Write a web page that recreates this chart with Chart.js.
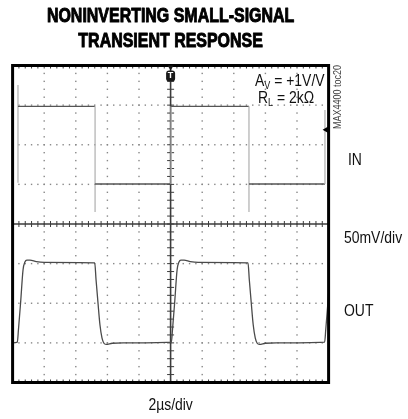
<!DOCTYPE html>
<html>
<head>
<meta charset="utf-8">
<script src="https://cdn.jsdelivr.net/npm/chart.js@4.4.1/dist/chart.umd.min.js"></script>
<style>
  html, body { margin: 0; padding: 0; background: #fff; }
  #wrap { width: 408px; height: 419px; }
</style>
</head>
<body>
<div id="wrap"><canvas id="scope"></canvas></div>
<script>
// x: time in µs (2µs/div, 10 div), y: screen divisions from bottom (50mV/div, 8 div)
const inTime  = [0.34, 0.34, 0.34, 5.22, 5.22, 5.22, 10.03, 10.03, 14.96, 14.96, 14.96, 19.77, 19.77];
const inLevel = [5.04, 7.51, 6.97, 6.97, 4.30, 5.01, 5.01, 6.97, 6.97, 4.30, 5.01, 5.01, 6.88];

const outTime  = [0, 0.30, 0.37, 0.51, 0.66, 0.78, 0.90, 1.10, 1.50, 2.00, 5.20, 5.28, 5.40, 5.53, 5.66, 5.78, 5.92, 6.30, 7.00,
                  10.05, 10.12, 10.26, 10.41, 10.53, 10.65, 10.85, 11.25, 11.75, 14.90, 14.98, 15.10, 15.23, 15.36, 15.48, 15.62, 16.00, 16.70,
                  19.75, 19.82, 19.96, 20.11];
const outLevel = [1.00, 1.02, 1.33, 2.03, 2.84, 3.04, 3.09, 3.09, 3.05, 3.03, 3.02, 2.60, 2.03, 1.45, 1.12, 0.99, 0.96, 0.99, 1.00,
                  1.02, 1.33, 2.03, 2.84, 3.04, 3.09, 3.09, 3.05, 3.03, 3.02, 2.60, 2.03, 1.45, 1.12, 0.99, 0.96, 0.99, 1.00,
                  1.02, 1.33, 2.03, 2.84];

const xDivs = [0, 2, 4, 6, 8, 10, 12, 14, 16, 18, 20];
const yDivs = [0, 1, 2, 3, 4, 5, 6, 7, 8];

const titleLines = ['NONINVERTING SMALL-SIGNAL', 'TRANSIENT RESPONSE'];

const FONT = "'Liberation Sans', Arial, sans-serif";

const toPoints = (xs, ys) => xs.map((x, i) => ({ x, y: ys[i] }));

// draws text squeezed horizontally (no narrow font installed), returns drawn width
const narrowText = (ctx, text, x, y, font, align = 'left', sx = 0.82, heavy = 0) => {
    ctx.save();
    ctx.translate(x, y);
    ctx.scale(sx, 1);
    ctx.font = font;
    ctx.textAlign = align;
    ctx.fillText(text, 0, 0);
    if (heavy) {
        ctx.lineWidth = heavy;
        ctx.lineJoin = 'round';
        ctx.strokeText(text, 0, 0);
    }
    const w = ctx.measureText(text).width * sx;
    ctx.restore();
    return w;
};

// --- scope graticule: dotted divisions, centre axes with minor ticks ---
const graticule = {
    id: 'graticule',
    beforeDatasetsDraw(chart) {
        const { ctx, chartArea: a, scales: { x, y } } = chart;
        ctx.save();
        ctx.fillStyle = '#888';
        for (const d of yDivs) {
            if (d === 0 || d === 4 || d === 8) continue;
            const py = y.getPixelForValue(d);
            for (let t = 0; t <= 20.001; t += 0.4) {
                ctx.fillRect(x.getPixelForValue(t) - 0.7, py - 0.7, 1.4, 1.4);
            }
        }
        for (const t of xDivs) {
            if (t === 0 || t === 10 || t === 20) continue;
            const px = x.getPixelForValue(t);
            for (let d = 0; d <= 8.001; d += 0.2) {
                ctx.fillRect(px - 0.7, y.getPixelForValue(d) - 0.7, 1.4, 1.4);
            }
        }

        const cx = x.getPixelForValue(10), cy = y.getPixelForValue(4);
        ctx.strokeStyle = '#3c3c3c';
        ctx.lineWidth = 1.6;
        ctx.beginPath();
        ctx.moveTo(a.left, cy); ctx.lineTo(a.right, cy);
        ctx.moveTo(cx, a.top); ctx.lineTo(cx, a.bottom);
        ctx.stroke();

        ctx.lineWidth = 1;
        ctx.beginPath();
        for (let t = 0.4; t < 20; t += 0.4) {
            const px = x.getPixelForValue(t);
            ctx.moveTo(px, cy - 3); ctx.lineTo(px, cy + 3);
            ctx.moveTo(px, a.top); ctx.lineTo(px, a.top + 3);
            ctx.moveTo(px, a.bottom); ctx.lineTo(px, a.bottom - 3);
        }
        for (let d = 0.2; d < 8; d += 0.2) {
            const py = y.getPixelForValue(d);
            ctx.moveTo(cx - 3.5, py); ctx.lineTo(cx + 3.5, py);
        }
        ctx.stroke();
        ctx.restore();
    },
    afterDatasetsDraw(chart) {
        const { ctx, chartArea: a, scales: { x, y } } = chart;
        ctx.save();
        // frame
        ctx.strokeStyle = '#000';
        ctx.lineWidth = 3;
        ctx.strokeRect(a.left, a.top, a.right - a.left, a.bottom - a.top);

        // trigger marker
        const cx = x.getPixelForValue(10);
        ctx.fillStyle = '#1a1a1a';
        ctx.beginPath();
        ctx.moveTo(cx - 3, a.top); ctx.lineTo(cx + 3, a.top); ctx.lineTo(cx, a.top + 5);
        ctx.fill();
        ctx.beginPath();
        ctx.roundRect(cx - 4.5, a.top + 5, 9, 11, 3);
        ctx.fill();
        ctx.fillStyle = '#fff';
        ctx.textBaseline = 'middle';
        narrowText(ctx, 'T', cx, a.top + 10.5, 'bold 9px ' + FONT, 'center', 1);

        // channel ground arrow
        const gy = y.getPixelForValue(6.38);
        ctx.fillStyle = '#000';
        ctx.beginPath();
        ctx.moveTo(a.right - 6, gy); ctx.lineTo(a.right, gy - 3.5); ctx.lineTo(a.right, gy + 3.5);
        ctx.fill();

        // title
        const mid = (a.left + a.right) / 2;
        ctx.fillStyle = '#000';
        ctx.strokeStyle = '#000';
        ctx.textBaseline = 'alphabetic';
        narrowText(ctx, titleLines[0], mid, 22, 'bold 21px ' + FONT, 'center', 0.76, 1);
        narrowText(ctx, titleLines[1], mid, 47, 'bold 21px ' + FONT, 'center', 0.76, 1);

        // annotations
        ctx.fillStyle = '#111';
        const sub = (main, s, rest, x0, base) => {
            let w = narrowText(ctx, main, x0, base, '17px ' + FONT);
            w += narrowText(ctx, s, x0 + w, base + 3, '11px ' + FONT);
            narrowText(ctx, rest, x0 + w, base, '17px ' + FONT);
        };
        sub('A', 'V', ' = +1V/V', 255, 86);
        sub('R', 'L', ' = 2k\u03A9', 258, 103);

        ctx.textBaseline = 'middle';
        narrowText(ctx, 'IN', 348, 160, '17px ' + FONT);
        narrowText(ctx, '50mV/div', 344, 238, '17px ' + FONT);
        narrowText(ctx, 'OUT', 344, 311, '17px ' + FONT);
        narrowText(ctx, '2\u00B5s/div', mid, 405, '17px ' + FONT, 'center');

        ctx.save();
        ctx.translate(338, 97);
        ctx.rotate(-Math.PI / 2);
        ctx.fillStyle = '#444';
        narrowText(ctx, 'MAX4400 toc20', 0, 0, '11px ' + FONT, 'center');
        ctx.restore();
        ctx.restore();
    }
};

new Chart(document.getElementById('scope'), {
    type: 'line',
    data: {
        datasets: [
            {
                label: 'IN',
                data: toPoints(inTime, inLevel),
                borderColor: '#555',
                borderWidth: 1.3,
                pointRadius: 0,
                tension: 0,
                segment: {
                    borderColor: c => c.p0.parsed.x === c.p1.parsed.x ? '#b4b4b4' : '#555'
                }
            },
            {
                label: 'OUT',
                data: toPoints(outTime, outLevel),
                borderColor: '#4a4a4a',
                borderWidth: 1.3,
                pointRadius: 0,
                cubicInterpolationMode: 'monotone'
            }
        ]
    },
    options: {
        responsive: true,
        maintainAspectRatio: false,
        animation: false,
        events: [],
        layout: { padding: { left: 12.6, right: 79.4, top: 65.5, bottom: 36.5 } },
        scales: {
            x: { type: 'linear', min: 0, max: 20, display: false },
            y: { type: 'linear', min: 0, max: 8, display: false }
        },
        plugins: {
            legend: { display: false },
            tooltip: { enabled: false }
        }
    },
    plugins: [graticule]
});
</script>
</body>
</html>
